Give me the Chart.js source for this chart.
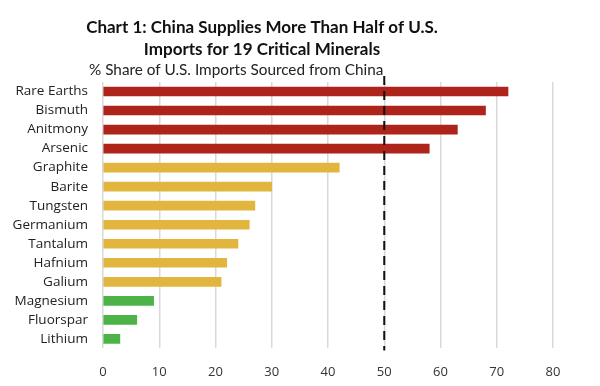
<!DOCTYPE html>
<html>
<head>
<meta charset="utf-8">
<script src="https://cdn.jsdelivr.net/npm/chart.js@4/dist/chart.umd.min.js"></script>
<style>
  html, body { margin: 0; padding: 0; background: #fff; }
  #wrap { width: 600px; height: 386px; position: relative; }
</style>
</head>
<body>
<div id="wrap"><canvas id="c" width="600" height="386"></canvas></div>
<script>
const categories = ["Rare Earths","Bismuth","Anitmony","Arsenic","Graphite","Barite","Tungsten","Germanium","Tantalum","Hafnium","Galium","Magnesium","Fluorspar","Lithium"];
const shareValues = [72, 68, 63, 58, 42, 30, 27, 26, 24, 22, 21, 9, 6, 3];
const groups = ["high","high","high","high","mid","mid","mid","mid","mid","mid","mid","low","low","low"];
const groupColors = { high: "#AE231A", mid: "#E2B63E", low: "#4CB446" };
const xTicks = [0, 10, 20, 30, 40, 50, 60, 70, 80];
const thresholdValue = 50;
const titleLines = ["Chart 1: China Supplies More Than Half of U.S.", "Imports for 19 Critical Minerals"];
const subtitleText = "% Share of U.S. Imports Sourced from China";

const FONT = "Lato, 'Open Sans', sans-serif";
const LABEL_FONT = "'Open Sans', Lato, sans-serif";

const overlay = {
  id: 'overlay',
  afterDatasetsDraw(chart) {
    const ctx = chart.ctx;
    const x = chart.scales.x.getPixelForValue(thresholdValue);
    const area = chart.chartArea;
    ctx.save();
    ctx.strokeStyle = '#111';
    ctx.lineWidth = 2;
    ctx.setLineDash([9, 6]);
    ctx.beginPath();
    ctx.moveTo(x, area.top - 6);
    ctx.lineTo(x, area.bottom + 2);
    ctx.stroke();
    ctx.restore();
  },
  afterDraw(chart) {
    const ctx = chart.ctx;
    ctx.save();
    ctx.fillStyle = '#111';
    ctx.textAlign = 'center';
    ctx.textBaseline = 'middle';
    ctx.font = "bold 17px " + FONT;
    ctx.fillText(titleLines[0], 262, 28);
    ctx.fillText(titleLines[1], 262, 50);
    ctx.font = "15.3px " + FONT;
    ctx.fillStyle = '#222';
    ctx.textAlign = 'left';
    ctx.fillText(subtitleText, 89, 70);
    ctx.restore();
  }
};

new Chart(document.getElementById('c'), {
  type: 'bar',
  data: {
    labels: categories,
    datasets: [{
      data: shareValues,
      backgroundColor: groups.map(g => groupColors[g]),
      borderWidth: 0,
      barThickness: 9
    }]
  },
  options: {
    indexAxis: 'y',
    responsive: false,
    animation: false,
    layout: { padding: { top: 82, right: 47, bottom: -10, left: 8 } },
    plugins: {
      legend: { display: false },
      tooltip: { enabled: false },
      title: { display: false }
    },
    scales: {
      x: {
        min: 0,
        max: 80,
        afterBuildTicks(scale) { scale.ticks = xTicks.map(v => ({ value: v })); },
        grid: { color: '#d9d9d9', lineWidth: 1.5, drawTicks: false },
        border: { display: false },
        ticks: { color: '#333', font: { family: LABEL_FONT, size: 13 }, padding: 16 }
      },
      y: {
        afterFit(scale) { scale.width = 95; },
        grid: { display: false, drawTicks: false },
        border: { display: false },
        ticks: { color: '#222', autoSkip: false, font: { family: LABEL_FONT, size: 13.5 }, padding: 15 }
      }
    }
  },
  plugins: [overlay]
});
</script>
</body>
</html>
